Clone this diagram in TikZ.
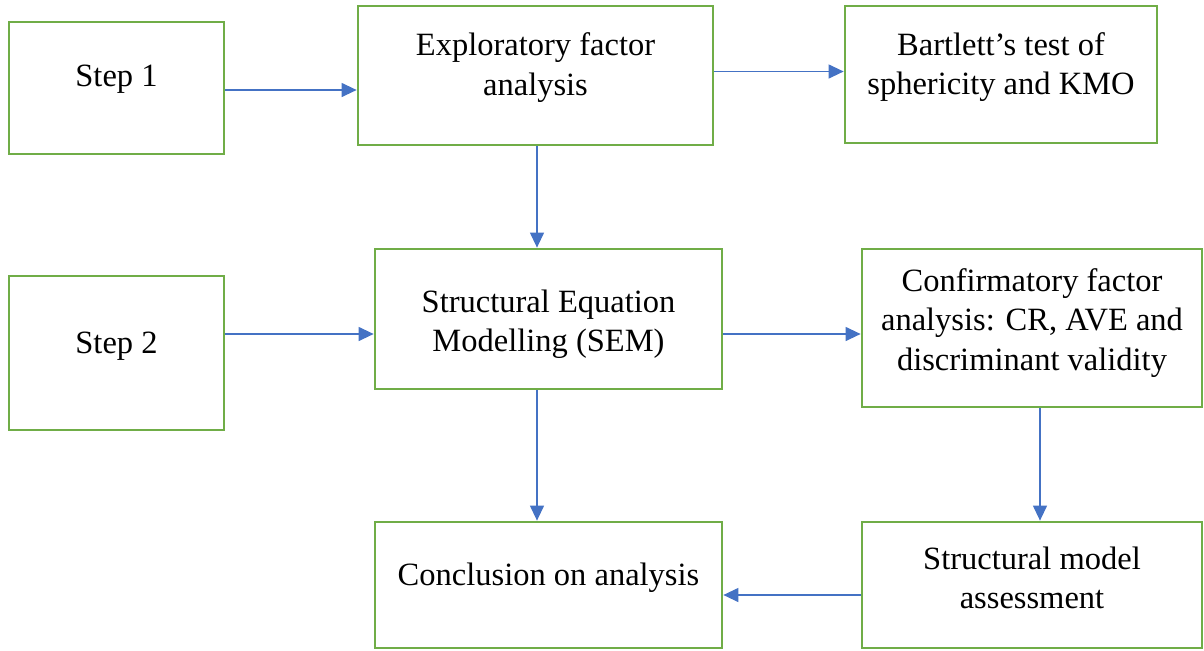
\documentclass[tikz,border=0pt]{standalone}
\usepackage{fontspec}
\setmainfont{Liberation Serif}
\usetikzlibrary{arrows.meta}
\definecolor{boxgreen}{RGB}{112,173,71}
\definecolor{arrowblue}{RGB}{68,114,196}
\tikzset{
  flowbox/.style={draw=boxgreen, line width=1.6pt, minimum width=#1, inner sep=0pt},
  boxtext/.style={align=center, font=\fontsize{18.5}{22.4}\selectfont, inner sep=0pt},
  flowarrow/.style={draw=arrowblue, line width=0.7pt, -{Triangle[length=0.3cm,width=0.28cm]}}
}
\begin{document}
\begin{tikzpicture}[x=0.02cm, y=-0.02cm]
  \useasboundingbox (0,0) rectangle (1204,650);
  % Kaesten
  \node[flowbox=4.3cm, minimum height=2.64cm] (step1) at (116.5,88) {};
  \node[flowbox=7.1cm, minimum height=2.78cm] (efa) at (535.5,75.5) {};
  \node[flowbox=6.24cm, minimum height=2.74cm] (bart) at (1001,74.5) {};
  \node[flowbox=4.3cm, minimum height=3.08cm] (step2) at (116.5,353) {};
  \node[flowbox=6.94cm, minimum height=2.8cm] (sem) at (548.5,319) {};
  \node[flowbox=6.8cm, minimum height=3.16cm] (cfa) at (1032,328) {};
  \node[flowbox=6.94cm, minimum height=2.52cm] (concl) at (548.5,585) {};
  \node[flowbox=6.8cm, minimum height=2.52cm] (smodel) at (1032,585) {};
  % Beschriftungen
  \node[boxtext] (step1-t) at ([yshift=0.18cm]step1.center) {Step 1};
  \node[boxtext] (efa-t) at ([yshift=0.16cm]efa.center) {Exploratory factor\\analysis};
  \node[boxtext] (bart-t) at ([yshift=0.15cm]bart.center) {Bartlett’s test of\\sphericity and KMO};
  \node[boxtext] (step2-t) at ([yshift=0.14cm]step2.center) {Step 2};
  \node[boxtext] (sem-t) at ([yshift=-0.1cm]sem.center) {Structural Equation\\Modelling (SEM)};
  \node[boxtext] (cfa-t) at ([yshift=0.1cm]cfa.center) {Confirmatory factor\\analysis: CR, AVE and\\discriminant validity};
  \node[boxtext] (concl-t) at ([yshift=0.15cm]concl.center) {Conclusion on analysis};
  \node[boxtext] (smodel-t) at ([yshift=0.14cm]smodel.center) {Structural model\\assessment};
  % Pfeile
  \coordinate (semin) at ([yshift=-0.3cm]sem.west);
  \coordinate (semout) at ([yshift=-0.3cm]sem.east);
  \coordinate (cfaout) at ([xshift=0.16cm]cfa.south);
  \coordinate (smodout) at ([yshift=-0.2cm]smodel.west);
  \coordinate (efaout) at ([yshift=0.08cm]efa.east);
  \draw[flowarrow] ([yshift=-0.04cm]step1.east) -- ([yshift=-0.04cm]step1.east -| efa.west);
  \draw[flowarrow] (efaout) -- (efaout -| bart.west);
  \draw[flowarrow] ([xshift=0.03cm]efa.south) -- ([xshift=0.03cm]efa.south |- sem.north);
  \draw[flowarrow] (semin -| step2.east) -- (semin);
  \draw[flowarrow] (semout) -- (semout -| cfa.west);
  \draw[flowarrow] ([xshift=0.03cm]efa.south |- sem.south) -- ([xshift=0.03cm]efa.south |- concl.north);
  \draw[flowarrow] (cfaout) -- (cfaout |- smodel.north);
  \draw[flowarrow] (smodout) -- (smodout -| concl.east);
\end{tikzpicture}
\end{document}
